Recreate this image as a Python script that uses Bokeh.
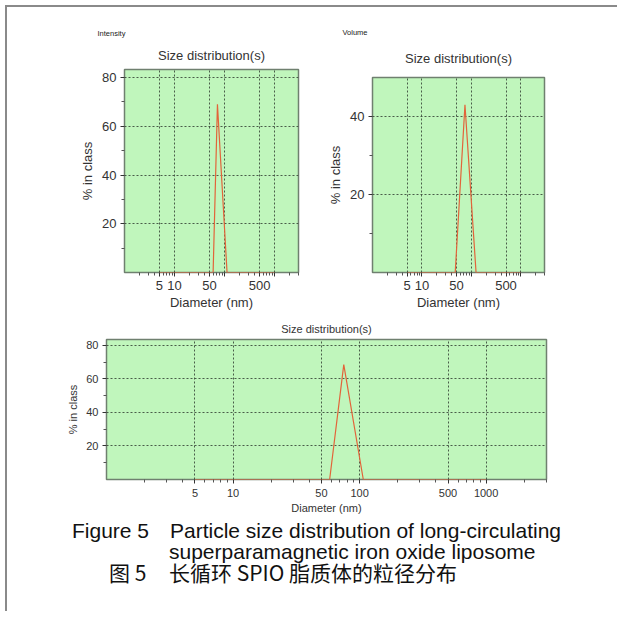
from bokeh.plotting import figure
from bokeh.layouts import column, row
from bokeh.models import Range1d, FixedTicker, Title, Div
from bokeh.embed import file_html
from bokeh.resources import INLINE

# ---------------- data ----------------
intensity_size = [5, 59, 72, 112, 1000]
intensity_pct = [0, 0, 69, 0, 0]

volume_size = [5, 47, 74, 124, 1000]
volume_pct = [0, 0, 43, 0, 0]

number_size = [5, 58, 75, 107, 1000]
number_pct = [0, 0, 68.5, 0, 0]

x_ticks = [5, 10, 50, 100, 500, 1000]
x_labels_small = ["5", "10", "50", "", "500", ""]
x_labels_wide = ["5", "10", "50", "100", "500", "1000"]
x_minor = [2, 3, 4, 6, 7, 8, 9, 20, 30, 40, 60, 70, 80, 90,
           200, 300, 400, 600, 700, 800, 900, 2000, 3000]

y_ticks_a = [20, 40, 60, 80]
y_minor_a = [10, 30, 50, 70]
y_ticks_b = [20, 40]
y_minor_b = [10, 30]

FONT = "Liberation Sans"
BG = "#c0f6bc"
LINE = "#e2643a"
GRID = "#3c4c3c"
TXT = "#333333"


def style(p, fs, xlabels, yticks, yminor):
    p.background_fill_color = BG
    p.border_fill_color = "white"
    p.outline_line_color = "#6f806f"
    p.outline_line_width = 1.5
    p.xaxis.ticker = FixedTicker(ticks=x_ticks, minor_ticks=x_minor)
    p.xaxis.major_label_overrides = {t: l for t, l in zip(x_ticks, xlabels)}
    p.yaxis.ticker = FixedTicker(ticks=yticks, minor_ticks=yminor)
    for ax in (p.xaxis[0], p.yaxis[0]):
        ax.axis_line_color = None
        ax.major_tick_line_color = TXT
        ax.major_tick_out = 4
        ax.major_tick_in = 0
        ax.minor_tick_line_color = "#555555"
        ax.minor_tick_out = 3
        ax.minor_tick_in = 0
        ax.major_label_text_font = FONT
        ax.major_label_text_font_size = fs
        ax.major_label_text_color = TXT
        ax.axis_label_text_font = FONT
        ax.axis_label_text_font_size = fs
        ax.axis_label_text_font_style = "normal"
        ax.axis_label_text_color = TXT
        ax.major_label_standoff = 4
        ax.axis_label_standoff = 4
    p.xaxis.axis_label = "Diameter (nm)"
    p.yaxis.axis_label = "% in class"
    p.xaxis.axis_label_standoff = 2
    for g in (p.xgrid[0], p.ygrid[0]):
        g.grid_line_color = GRID
        g.grid_line_dash = "2 2"
        g.grid_line_width = 1
        g.grid_line_alpha = 0.9


def add_titles(p, small, small_offset, fs, main_standoff, small_standoff):
    p.add_layout(Title(text="Size distribution(s)", align="center", text_font=FONT,
                       text_font_size=fs, text_font_style="normal", text_color=TXT,
                       standoff=main_standoff), "above")
    if small:
        p.add_layout(Title(text=small, align="left", offset=small_offset, text_font=FONT,
                           text_font_size="7.5px", text_font_style="normal",
                           text_color="#222222", standoff=small_standoff), "above")


# ---------- top-left : Intensity ----------
p1 = figure(x_axis_type="log", x_range=Range1d(1, 3000), y_range=Range1d(0, 83.3),
            frame_width=174, frame_height=203, min_border_left=117, min_border_right=22,
            min_border_top=62, min_border_bottom=40, title=None,
            output_backend="svg", toolbar_location=None)
style(p1, "13px", x_labels_small, y_ticks_a, y_minor_a)
p1.line(intensity_size, intensity_pct, line_color=LINE, line_width=1.2)
add_titles(p1, "Intensity", -27, "13px", 14, 2)

# ---------- top-right : Volume ----------
p2 = figure(x_axis_type="log", x_range=Range1d(1, 3000), y_range=Range1d(0, 50),
            frame_width=172, frame_height=195, min_border_left=52, min_border_right=20,
            min_border_top=70, min_border_bottom=40, title=None,
            output_backend="svg", toolbar_location=None)
style(p2, "13px", x_labels_small, y_ticks_b, y_minor_b)
p2.line(volume_size, volume_pct, line_color=LINE, line_width=1.2)
add_titles(p2, "Volume", -30, "13px", 24, 0)

# ---------- bottom : wide ----------
p3 = figure(x_axis_type="log", x_range=Range1d(1, 3000), y_range=Range1d(0, 83.5),
            frame_width=440, frame_height=140, min_border_left=99, min_border_right=20,
            min_border_top=27, min_border_bottom=38, title=None,
            output_backend="svg", toolbar_location=None)
style(p3, "11px", x_labels_wide, y_ticks_a, y_minor_a)
add_titles(p3, None, 0, "11px", 10, 0)
p3.xaxis.major_label_standoff = 5
p3.xaxis.axis_label_standoff = 2
p3.line(number_size, number_pct, line_color=LINE, line_width=1.2)

# ---------- caption ----------
caption_lines = [
    ("Figure 5", 60, -2.5, FONT, 21),
    ("Particle size distribution of long-circulating", 158, -2.5, FONT, 21),
    ("superparamagnetic iron oxide liposome", 157, 18.5, FONT, 21),
    ("图 5", 97, 39.5, "Noto Sans CJK SC", 21),
    ("长循环 SPIO 脂质体的粒径分布", 157, 39.5, "Noto Sans CJK SC", 21),
]
spans = "".join(
    f'<span style="position:absolute;left:{x}px;top:{y}px;font-family:\'{f}\';'
    f'font-size:{s}px;line-height:21px;white-space:nowrap;color:#111;">{t}</span>'
    for t, x, y, f, s in caption_lines)
cap = Div(text=f'<div style="position:relative;width:600px;height:84px;">{spans}</div>',
          width=600, height=84)

layout = column(row(column(p1), column(p2)), p3, cap, margin=(5, 0, 0, 5),
                styles={"border-left": "2px solid #8a8a8a", "border-top": "2px solid #8a8a8a"})

open("out.html", "w").write(file_html(layout, INLINE))
